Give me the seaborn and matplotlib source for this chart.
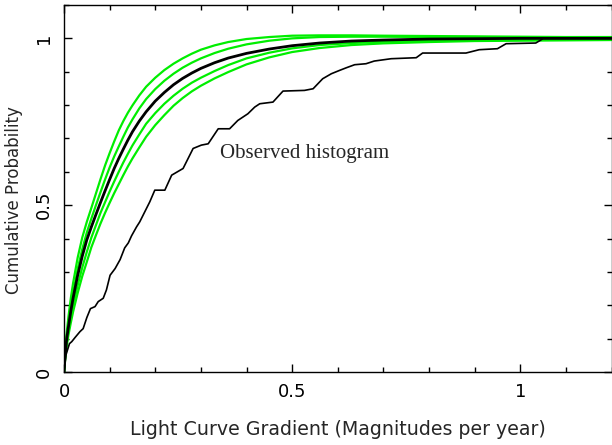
import matplotlib
matplotlib.use("Agg")
import matplotlib.pyplot as plt
import seaborn as sns
import pandas as pd
from matplotlib.ticker import MultipleLocator, FixedLocator

# ---------------- data ----------------
grid_x = [0, 0.003, 0.006, 0.01, 0.015, 0.02, 0.03, 0.04, 0.05, 0.06, 0.07,
          0.08, 0.09, 0.10, 0.11, 0.12, 0.13, 0.14, 0.15, 0.165, 0.18, 0.20,
          0.22, 0.24, 0.26, 0.28, 0.30, 0.33, 0.36, 0.40, 0.45, 0.50, 0.56,
          0.63, 0.70, 0.80, 0.90, 1.00, 1.10, 1.20]

model_mean = [0, 0.06, 0.10, 0.138, 0.183, 0.222, 0.29, 0.347, 0.396, 0.435,
              0.472, 0.508, 0.543, 0.577, 0.61, 0.64, 0.668, 0.695, 0.72,
              0.752, 0.78, 0.812, 0.838, 0.861, 0.88, 0.896, 0.91, 0.927,
              0.941, 0.955, 0.968, 0.978, 0.986, 0.992, 0.995, 0.998, 0.999,
              1.0, 1.0, 1.0]

model_hi2 = [0, 0.073, 0.119, 0.168, 0.222, 0.267, 0.343, 0.403, 0.45, 0.492,
             0.535, 0.578, 0.619, 0.656, 0.691, 0.724, 0.752, 0.777, 0.799,
             0.829, 0.855, 0.882, 0.905, 0.924, 0.94, 0.954, 0.966, 0.979,
             0.989, 0.998, 1.004, 1.008, 1.009, 1.009, 1.008, 1.007, 1.006,
             1.005, 1.004, 1.004]

model_hi1 = [0, 0.064, 0.106, 0.148, 0.196, 0.237, 0.309, 0.368, 0.418, 0.46,
             0.5, 0.539, 0.577, 0.613, 0.646, 0.676, 0.705, 0.733, 0.757,
             0.79, 0.818, 0.848, 0.873, 0.894, 0.912, 0.927, 0.94, 0.956,
             0.969, 0.982, 0.993, 1.0, 1.004, 1.005, 1.005, 1.004, 1.004,
             1.003, 1.002, 1.002]

model_lo1 = [0, 0.051, 0.088, 0.124, 0.163, 0.2, 0.26, 0.313, 0.36, 0.403,
             0.44, 0.477, 0.509, 0.541, 0.571, 0.6, 0.628, 0.654, 0.679,
             0.712, 0.744, 0.776, 0.804, 0.828, 0.849, 0.867, 0.882, 0.902,
             0.92, 0.94, 0.957, 0.97, 0.98, 0.986, 0.99, 0.993, 0.995, 0.996,
             0.997, 0.997]

model_lo2 = [0, 0.044, 0.078, 0.113, 0.148, 0.181, 0.237, 0.287, 0.33, 0.374,
             0.41, 0.445, 0.477, 0.507, 0.536, 0.563, 0.59, 0.616, 0.64,
             0.673, 0.705, 0.74, 0.77, 0.798, 0.821, 0.841, 0.858, 0.88,
             0.899, 0.922, 0.943, 0.959, 0.971, 0.98, 0.985, 0.989, 0.992,
             0.993, 0.994, 0.995]

obs_x = [0, 0.004, 0.012, 0.017, 0.024, 0.035, 0.042, 0.050, 0.058, 0.068,
         0.075, 0.086, 0.093, 0.101, 0.112, 0.123, 0.133, 0.141, 0.148, 0.159,
         0.166, 0.177, 0.188, 0.199, 0.221, 0.236, 0.261, 0.283, 0.301, 0.316,
         0.338, 0.363, 0.381, 0.403, 0.418, 0.429, 0.458, 0.480, 0.527, 0.546,
         0.567, 0.586, 0.604, 0.619, 0.637, 0.662, 0.680, 0.717, 0.772, 0.786,
         0.881, 0.910, 0.950, 0.969, 1.034, 1.045, 1.05, 1.2]
obs_y = [0, 0.05, 0.085, 0.091, 0.103, 0.121, 0.13, 0.163, 0.19, 0.196,
         0.211, 0.221, 0.246, 0.29, 0.31, 0.337, 0.372, 0.387, 0.408, 0.435,
         0.45, 0.48, 0.51, 0.545, 0.545, 0.59, 0.61, 0.67, 0.68, 0.684,
         0.729, 0.729, 0.754, 0.774, 0.794, 0.804, 0.809, 0.842, 0.844, 0.849,
         0.879, 0.894, 0.904, 0.912, 0.921, 0.924, 0.932, 0.939, 0.942, 0.956,
         0.956, 0.966, 0.969, 0.984, 0.986, 0.995, 1.0, 1.0]

x_ticks = [0, 0.5, 1]
x_tick_labels = ["0", "0.5", "1"]
y_ticks = [0, 0.5, 1]
y_tick_labels = ["0", "0.5", "1"]

x_label = "Light Curve Gradient (Magnitudes per year)"
y_label = "Cumulative Probability"
annotation = "Observed histogram"

# ---------------- plot ----------------
sns.set_style("ticks")
plt.rcParams["font.family"] = ["DejaVu Sans"]

fig = plt.figure(figsize=(6.12, 4.45), dpi=100)
ax = fig.add_axes([64 / 612, 73 / 445, 547.5 / 612, 367 / 445])

green = "#00ee00"
model_df = pd.DataFrame({"x": grid_x})
for col, vals in [("hi2", model_hi2), ("hi1", model_hi1),
                  ("lo1", model_lo1), ("lo2", model_lo2)]:
    model_df[col] = vals
    sns.lineplot(data=model_df, x="x", y=col, ax=ax, color=green, lw=1.6,
                 sort=False, estimator=None)
model_df["mean"] = model_mean
sns.lineplot(data=model_df, x="x", y="mean", ax=ax, color="black", lw=2.0,
             sort=False, estimator=None)

obs_df = pd.DataFrame({"x": obs_x, "y": obs_y})
sns.lineplot(data=obs_df, x="x", y="y", ax=ax, color="black", lw=1.2,
             sort=False, estimator=None)

ax.text(0.341, 0.641, annotation, family=["Liberation Serif", "DejaVu Serif"],
        fontsize=15, va="baseline", ha="left")

ax.set_xlim(0, 1.2)
ax.set_ylim(0, 1.1)
ax.xaxis.set_major_locator(FixedLocator(x_ticks))
ax.yaxis.set_major_locator(FixedLocator(y_ticks))
ax.set_xticklabels(x_tick_labels)
ax.set_yticklabels(y_tick_labels, rotation=90, va="center")
ax.xaxis.set_minor_locator(MultipleLocator(0.1))
ax.yaxis.set_minor_locator(MultipleLocator(0.1))
ax.tick_params(which="both", direction="in", top=True, right=True,
               width=1.0, colors="black", labelsize=13)
ax.tick_params(which="major", length=6)
ax.tick_params(which="minor", length=3.6)
ax.tick_params(axis="x", pad=8)
ax.tick_params(axis="y", pad=8)
for s in ax.spines.values():
    s.set_linewidth(1.0)
    s.set_color("black")

ax.set_xlabel(x_label, fontsize=13.7)
ax.set_ylabel(y_label, fontsize=12)
ax.xaxis.set_label_coords(0.5, -0.13)
ax.xaxis.label.set_va("top")
ax.yaxis.set_label_coords(-0.075, 0.469)

fig.savefig("out.png", dpi=100)
